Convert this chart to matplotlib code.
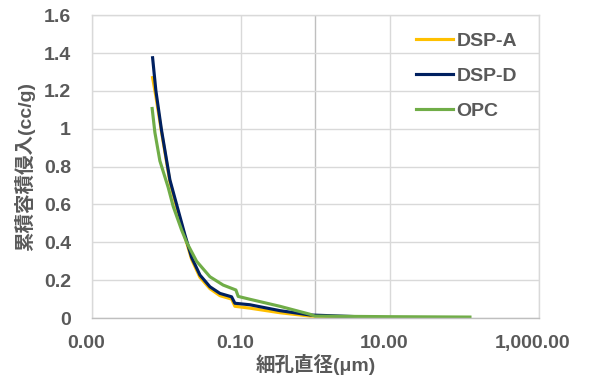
import matplotlib
matplotlib.use("Agg")
import matplotlib.pyplot as plt
import matplotlib.transforms as mtransforms
from matplotlib.ticker import FixedLocator, FuncFormatter, NullLocator

plt.rcParams["font.family"] = ["Liberation Sans", "Noto Sans CJK JP"]

# cumulative intrusion curves (pore diameter in µm, volume in cc/g)
dsp_a_x = [0.00653, 0.00723, 0.00862, 0.01114, 0.01371, 0.0177, 0.0218, 0.0282,
           0.0384, 0.0523, 0.0750, 0.0830, 0.132, 0.333, 0.843, 5.4]
dsp_a_y = [1.27, 1.17, 0.98, 0.72, 0.585, 0.43, 0.31, 0.215,
           0.155, 0.118, 0.10, 0.062, 0.052, 0.028, 0.010, 0.004]

dsp_d_x = [0.00653, 0.00723, 0.00862, 0.01114, 0.01371, 0.0177, 0.0218, 0.0282,
           0.0384, 0.0523, 0.0750, 0.0830, 0.132, 0.333, 0.843, 4.35]
dsp_d_y = [1.375, 1.20, 0.99, 0.73, 0.60, 0.44, 0.32, 0.227,
           0.165, 0.13, 0.112, 0.078, 0.07, 0.039, 0.016, 0.006]

opc_x = [0.00644, 0.00701, 0.00818, 0.01057, 0.01233, 0.0160, 0.0187, 0.0254,
         0.0384, 0.0578, 0.0857, 0.092, 0.132, 0.333, 0.843, 0.984, 10.0, 118.6]
opc_y = [1.107, 0.98, 0.83, 0.69, 0.59, 0.465, 0.40, 0.30,
         0.218, 0.174, 0.148, 0.114, 0.099, 0.062, 0.02, 0.01, 0.007, 0.005]

x_ticks = [0.001, 0.1, 10, 1000]
y_ticks = [0, 0.2, 0.4, 0.6, 0.8, 1.0, 1.2, 1.4, 1.6]

text_color = "#595959"
grid_color = "#D9D9D9"
fs = 14

fig = plt.figure(figsize=(5.89, 3.89), dpi=100)
ax = fig.add_axes([0.156, 0.1825, 0.759, 0.7785])

ax.set_xscale("log")
ax.set_xlim(0.001, 1000)
ax.set_ylim(0, 1.6)

ax.xaxis.set_major_locator(FixedLocator(x_ticks))
ax.xaxis.set_minor_locator(NullLocator())
ax.xaxis.set_major_formatter(FuncFormatter(lambda v, p: f"{v:,.2f}"))
ax.yaxis.set_major_locator(FixedLocator(y_ticks))
ax.yaxis.set_major_formatter(FuncFormatter(lambda v, p: f"{v:g}"))

ax.grid(True, color=grid_color, linewidth=1.0)
ax.set_axisbelow(True)
for s in ax.spines.values():
    s.set_color(grid_color)
    s.set_linewidth(1.0)
ax.spines["bottom"].set_color("#BFBFBF")
# value axis crosses at 1 µm
ax.axvline(1.0, color="#BFBFBF", linewidth=1.0, zorder=0.5)

ax.tick_params(length=0, labelsize=fs, labelcolor=text_color)
ax.tick_params(axis="x", pad=12)
ax.tick_params(axis="y", pad=15)
shift = mtransforms.ScaledTranslation(-6 / 100, 0, fig.dpi_scale_trans)
for lbl in ax.get_xticklabels():
    lbl.set_fontweight("bold")
    lbl.set_transform(lbl.get_transform() + shift)
for lbl in ax.get_yticklabels():
    lbl.set_fontweight("bold")

ax.plot(dsp_a_x, dsp_a_y, color="#FFC000", linewidth=2.25, label="DSP-A")
ax.plot(dsp_d_x, dsp_d_y, color="#002060", linewidth=2.25, label="DSP-D")
ax.plot(opc_x, opc_y, color="#70AD47", linewidth=2.25, label="OPC")

ax.set_xlabel("細孔直径(μm)", fontsize=fs, fontweight="bold", color=text_color, labelpad=2)
ax.set_ylabel("累積容積侵入(cc/g)", fontsize=fs, fontweight="bold", color=text_color, labelpad=6)

leg = fig.legend(loc="upper left", bbox_to_anchor=(0.706, 0.918), frameon=False,
                 fontsize=fs, handlelength=1.9, handletextpad=0.2, labelspacing=0.9,
                 borderpad=0, borderaxespad=0)
for t in leg.get_texts():
    t.set_color(text_color)
    t.set_fontweight("bold")

fig.savefig("out.png", dpi=100)
